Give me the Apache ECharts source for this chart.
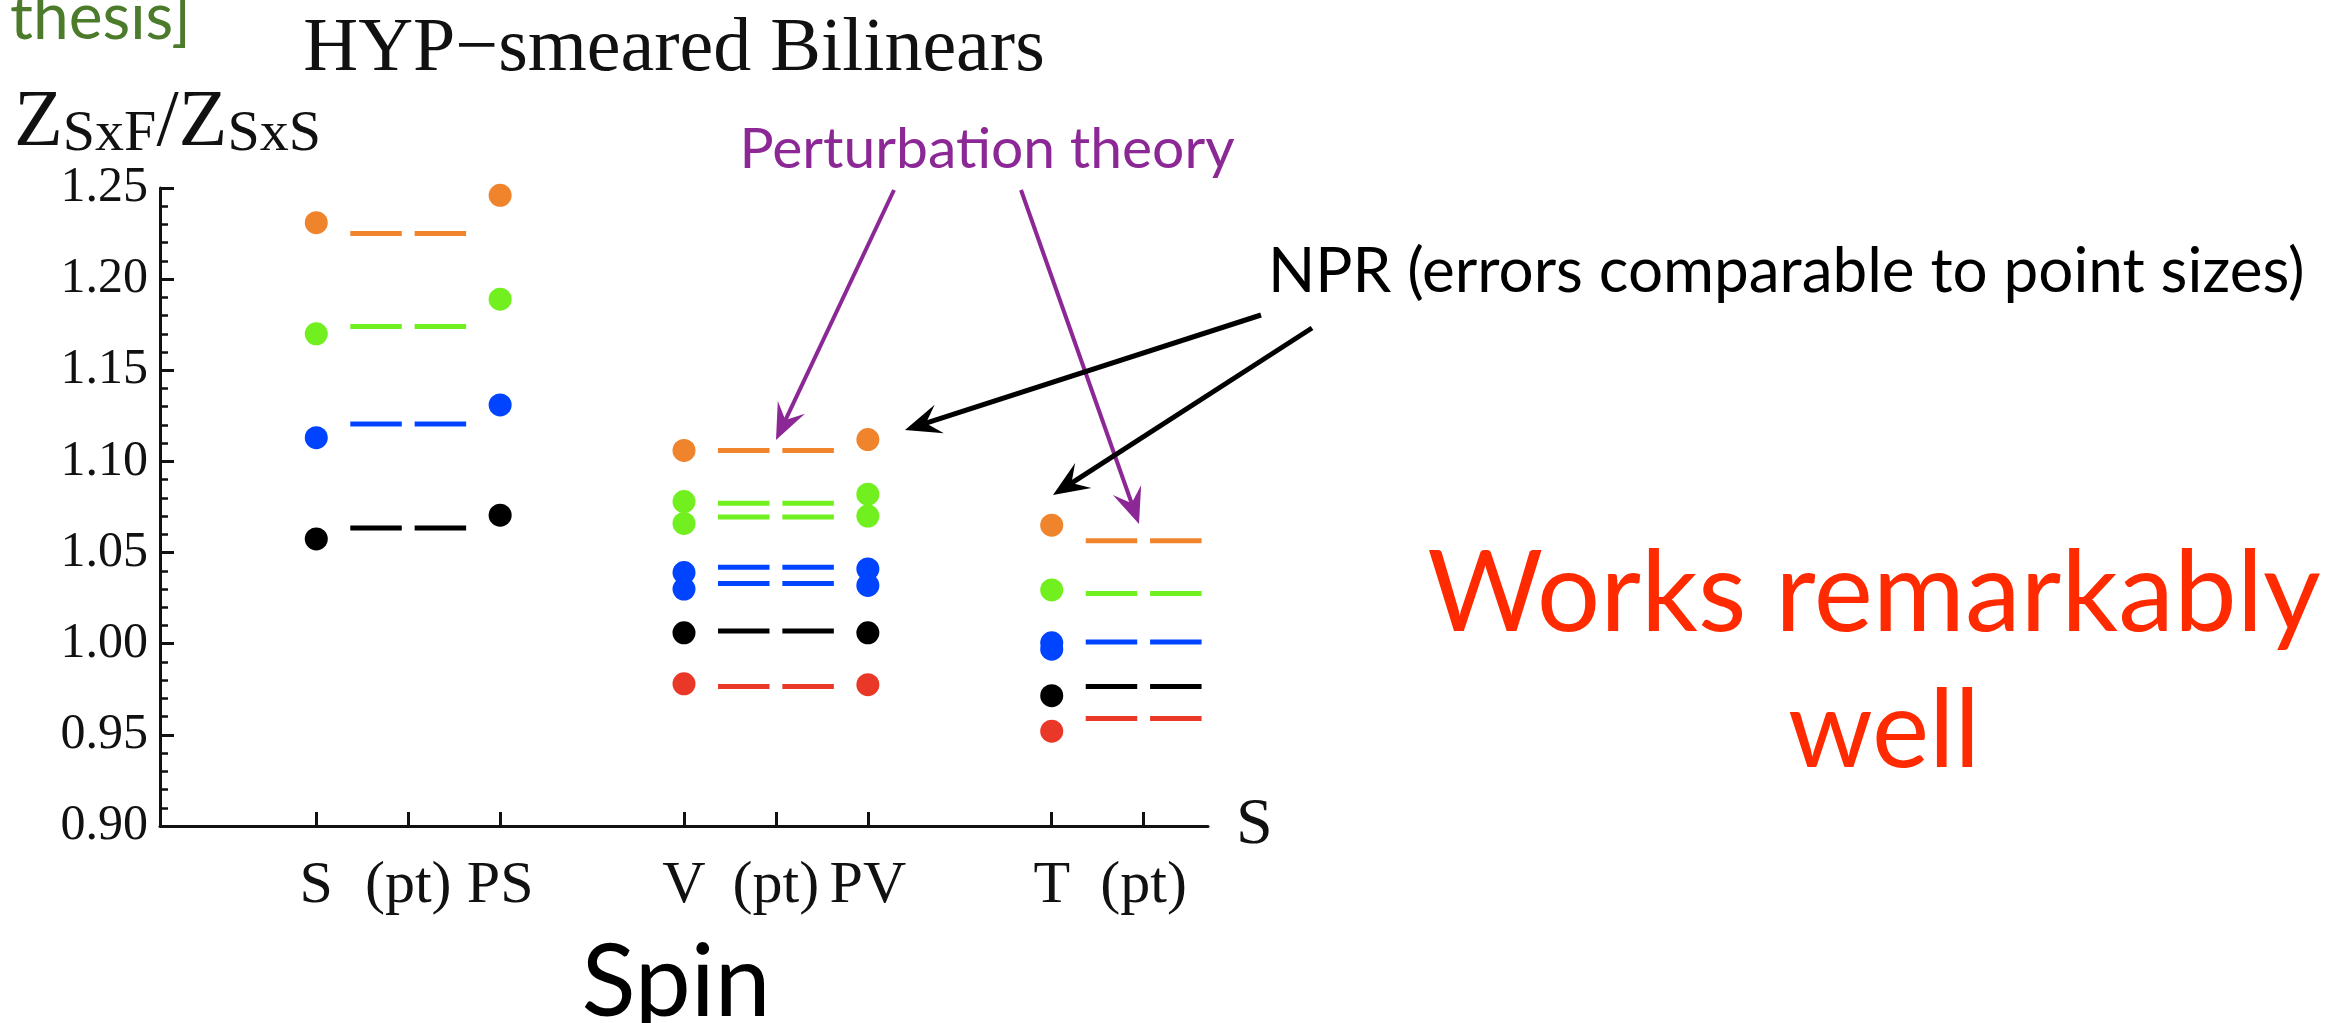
<!DOCTYPE html>
<html>
<head>
<meta charset="utf-8">
<script src="https://cdn.jsdelivr.net/npm/echarts@6/dist/echarts.min.js"></script>
<style>
  html, body { margin: 0; padding: 0; background: #fff; }
  #chart { width: 2326px; height: 1023px; }
</style>
</head>
<body>
<div id="chart"></div>
<script>
// x positions of the operator ticks and their labels
const tickPos = [1, 2, 3, 5, 6, 7, 9, 10]
const tickLabels = ['S', '(pt)', 'PS', 'V', '(pt)', 'PV', 'T', '(pt)']

// NPR points [position, Z ratio]
const orangeNpr = [[1, 1.231], [3, 1.246], [5, 1.106], [7, 1.112], [9, 1.065]]
const greenNpr = [[1, 1.170], [3, 1.189], [5, 1.078], [5, 1.066], [7, 1.082], [7, 1.070], [9, 1.0295]]
const blueNpr = [[1, 1.113], [3, 1.131], [5, 1.039], [5, 1.030], [7, 1.041], [7, 1.032], [9, 1.0005], [9, 0.997]]
const blackNpr = [[1, 1.0575], [3, 1.0705], [5, 1.006], [7, 1.006], [9, 0.9715]]
const redNpr = [[5, 0.978], [7, 0.9775], [9, 0.952]]

// perturbation theory values [position, Z ratio]
const orangePt = [[2, 1.225], [6, 1.106], [10, 1.0565]]
const greenPt = [[2, 1.174], [6, 1.077], [6, 1.0695], [10, 1.0275]]
const bluePt = [[2, 1.1205], [6, 1.042], [6, 1.033], [10, 1.001]]
const blackPt = [[2, 1.0635], [6, 1.007], [10, 0.9765]]
const redPt = [[6, 0.9765], [10, 0.959]]

const colors = {
  orange: '#f0842c',
  green: '#72ef1f',
  blue: '#0044ff',
  black: '#000000',
  red: '#ea3828'
}

const serif = 'Liberation Serif'
const sans = 'Lato'
const axisColor = '#111'

var chart = echarts.init(document.getElementById('chart'))

function dashItem (params, api) {
  var x = api.value(0)
  var y = api.value(1)
  var a = api.coord([x - 0.63, y])
  var b = api.coord([x - 0.07, y])
  var c = api.coord([x + 0.07, y])
  var d = api.coord([x + 0.63, y])
  var style = { stroke: api.visual('color'), lineWidth: 5 }
  return {
    type: 'group',
    children: [
      { type: 'line', shape: { x1: a[0], y1: a[1], x2: b[0], y2: b[1] }, style: style },
      { type: 'line', shape: { x1: c[0], y1: c[1], x2: d[0], y2: d[1] }, style: style }
    ]
  }
}

function arrow (x1, y1, x2, y2, color, width) {
  var ang = Math.atan2(y2 - y1, x2 - x1)
  var ux = Math.cos(ang)
  var uy = Math.sin(ang)
  var L = 36
  var W = 15
  var N = 22
  var bx = x2 - ux * L
  var by = y2 - uy * L
  var nx = x2 - ux * N
  var ny = y2 - uy * N
  return [
    { type: 'line', shape: { x1: x1, y1: y1, x2: nx, y2: ny }, style: { stroke: color, lineWidth: width } },
    {
      type: 'polygon',
      shape: { points: [[x2, y2], [bx - uy * W, by + ux * W], [nx, ny], [bx + uy * W, by - ux * W]] },
      style: { fill: color }
    }
  ]
}

var series = []
var groups = [
  ['orange', orangeNpr, orangePt],
  ['green', greenNpr, greenPt],
  ['blue', blueNpr, bluePt],
  ['black', blackNpr, blackPt],
  ['red', redNpr, redPt]
]
groups.forEach(function (g) {
  series.push({
    name: g[0] + ' pt',
    type: 'custom',
    renderItem: dashItem,
    itemStyle: { color: colors[g[0]] },
    encode: { x: 0, y: 1 },
    data: g[2],
    z: 2
  })
  series.push({
    name: g[0] + ' npr',
    type: 'scatter',
    symbol: 'circle',
    symbolSize: 23,
    itemStyle: { color: colors[g[0]], opacity: 1 },
    data: g[1],
    z: 3
  })
})

var graphics = []
  .concat(arrow(894, 190, 776, 440, '#8c2896', 4))
  .concat(arrow(1021, 190, 1139, 524, '#8c2896', 4))
  .concat(arrow(1261, 315, 905, 430, '#000', 5))
  .concat(arrow(1312, 328, 1053, 495, '#000', 5))

graphics.push(
  { type: 'text', x: 10, y: 18, style: { text: 'thesis]', fontSize: 64, fontFamily: sans, fill: '#4b7b2b', align: 'left', verticalAlign: 'middle' } },
  { type: 'text', x: 674, y: 50, style: { text: 'HYP\u2212smeared Bilinears', fontSize: 76, fontFamily: serif, fill: axisColor, align: 'center', verticalAlign: 'middle' } },
  {
    type: 'text', x: 14, y: 124,
    style: {
      text: '{z|Z}{s|SxF}{z|/Z}{s|SxS}',
      align: 'left',
      verticalAlign: 'middle',
      fill: axisColor,
      rich: {
        z: { fontSize: 80, fontFamily: serif, lineHeight: 80, fill: axisColor },
        s: { fontSize: 58, fontFamily: serif, lineHeight: 46, verticalAlign: 'bottom', fill: axisColor }
      }
    }
  },
  { type: 'text', x: 987, y: 150, style: { text: 'Perturbation theory', fontSize: 57, fontFamily: sans, fill: '#8c2896', align: 'center', verticalAlign: 'middle' } },
  { type: 'text', x: 1268, y: 272, style: { text: 'NPR (errors comparable to point sizes)', fontSize: 62, fontFamily: sans, fill: '#000', align: 'left', verticalAlign: 'middle' } },
  { type: 'text', x: 1874, y: 595, style: { text: 'Works remarkably', fontSize: 112, fontFamily: sans, fill: '#ff2a00', align: 'center', verticalAlign: 'middle' } },
  { type: 'text', x: 1884, y: 732, style: { text: 'well', fontSize: 108, fontFamily: sans, fill: '#ff2a00', align: 'center', verticalAlign: 'middle' } },
  { type: 'text', x: 676, y: 984, style: { text: 'Spin', fontSize: 100, fontFamily: sans, fill: '#000', align: 'center', verticalAlign: 'middle' } }
)

var lineStyle = { color: axisColor, width: 3 }

chart.setOption({
  animation: false,
  backgroundColor: '#fff',
  grid: { left: 160, right: 1118, top: 188, bottom: 197, containLabel: false, outerBoundsMode: 'none' },
  xAxis: {
    type: 'value',
    min: -0.7,
    max: 10.7,
    axisLine: { show: true, onZero: false, lineStyle: lineStyle },
    axisTick: { show: true, inside: true, length: 14, customValues: tickPos, lineStyle: lineStyle },
    axisLabel: {
      customValues: tickPos,
      formatter: function (v) { return tickLabels[tickPos.indexOf(v)] },
      fontFamily: serif,
      fontSize: 60,
      color: axisColor,
      margin: 30
    },
    splitLine: { show: false },
    name: 'S',
    nameLocation: 'end',
    nameGap: 28,
    nameTextStyle: { fontFamily: serif, fontSize: 66, color: axisColor, verticalAlign: 'middle' }
  },
  yAxis: {
    type: 'value',
    min: 0.9,
    max: 1.25,
    interval: 0.05,
    axisLine: { show: true, onZero: false, lineStyle: lineStyle },
    axisTick: { show: true, inside: true, length: 14, lineStyle: lineStyle },
    minorTick: { show: true, splitNumber: 5, length: 8, lineStyle: { color: axisColor, width: 2.5 } },
    axisLabel: {
      formatter: function (v) { return v.toFixed(2) },
      fontFamily: serif,
      fontSize: 50,
      color: axisColor,
      margin: 12
    },
    splitLine: { show: false }
  },
  graphic: graphics,
  series: series
})
</script>
</body>
</html>
